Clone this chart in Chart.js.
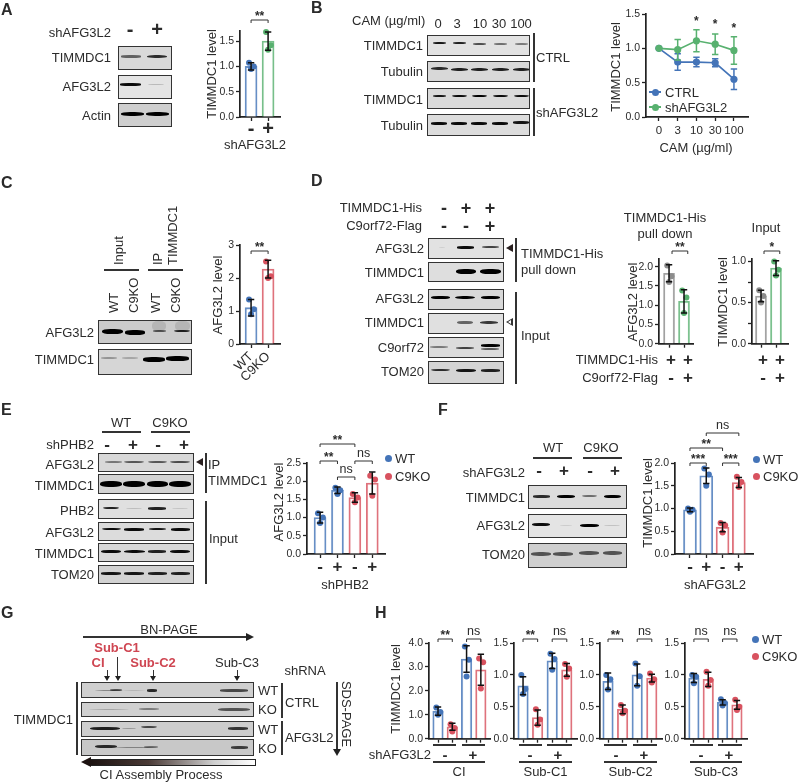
<!DOCTYPE html>
<html lang="en">
<head>
<meta charset="UTF-8" />
<title>TIMMDC1 figure</title>
<script src="https://cdn.jsdelivr.net/npm/chart.js"></script>
<style>
  html, body { margin: 0; padding: 0; background: #fff; }
  #page { position: relative; width: 800px; height: 783px; overflow: hidden; filter: blur(0.3px);
          font-family: "Liberation Sans", Arial, sans-serif; color: #2b2b2b; }
  #page canvas { position: absolute; }
  .t { position: absolute; white-space: nowrap; line-height: 1; }
  .box { position: absolute; box-sizing: border-box; border: 1.7px solid #333; overflow: hidden; }
  .band { position: absolute; background: #000; border-radius: 40%; filter: blur(0.45px); }
  .ln { position: absolute; background: #333; }
  .dot { position: absolute; width: 7px; height: 7px; border-radius: 50%; }
</style>
</head>
<body>
<div id="page"></div>
<script>
// colours
const BLUE = "#4474b8", GREEN = "#58b16f", RED = "#d8525f", GREY = "#8c8c8c", INK = "#222";

// A
const aLabels = ["-", "+"];
const aMeans = [1.0, 1.5];
const aErrs = [0.07, 0.18];
const aDots = [[0.95, 1.0, 1.07], [1.33, 1.42, 1.68]];
// B
const bLabels = ["0", "3", "10", "30", "100"];
const bCtrl = [1.0, 0.8, 0.8, 0.79, 0.55];
const bCtrlErrs = [0, 0.12, 0.07, 0.06, 0.15];
const bSh = [1.0, 0.98, 1.11, 1.06, 0.97];
const bShErrs = [0, 0.15, 0.16, 0.15, 0.2];
// C
const cLabels = ["WT", "C9KO"];
const cMeans = [1.1, 2.27];
const cErrs = [0.25, 0.27];
const cDots = [[0.9, 1.05, 1.35], [2.0, 2.05, 2.5]];
// D
const d1Means = [1.83, 1.1];
const d1Errs = [0.22, 0.3];
const d1Dots = [[1.6, 1.75, 2.03], [0.8, 1.2, 1.38]];
const d2Means = [0.58, 0.92];
const d2Errs = [0.07, 0.09];
const d2Dots = [[0.5, 0.58, 0.65], [0.83, 0.9, 1.0]];
// E
const signs4 = ["-", "+", "-", "+"];
const eMeans = [1.0, 1.75, 1.55, 1.95];
const eErrs = [0.15, 0.09, 0.13, 0.3];
const eDots = [[0.85, 1.0, 1.12], [1.65, 1.75, 1.82], [1.42, 1.55, 1.65], [1.6, 2.05, 2.15]];
// F
const fMeans = [0.97, 1.72, 0.59, 1.57];
const fErrs = [0.04, 0.17, 0.1, 0.11];
const fDots = [[0.93, 0.97, 1.0], [1.5, 1.75, 1.88], [0.47, 0.63, 0.68], [1.47, 1.58, 1.7]];
// H
const h1Means = [1.15, 0.5, 3.33, 2.88];
const h1Errs = [0.17, 0.15, 0.55, 0.65];
const h1Dots = [[1.0, 1.12, 1.3], [0.3, 0.45, 0.6], [2.6, 3.3, 3.85], [2.1, 3.2, 3.35]];
const h2Means = [0.83, 0.33, 1.22, 1.08];
const h2Errs = [0.14, 0.12, 0.12, 0.1];
const h2Dots = [[0.7, 0.78, 1.0], [0.22, 0.3, 0.46], [1.08, 1.25, 1.33], [0.97, 1.1, 1.17]];
const h3Means = [0.9, 0.46, 1.0, 0.95];
const h3Errs = [0.13, 0.07, 0.17, 0.06];
const h3Dots = [[0.77, 0.93, 1.0], [0.4, 0.44, 0.53], [0.83, 0.98, 1.18], [0.88, 0.93, 1.02]];
const h4Means = [0.95, 0.93, 0.57, 0.53];
const h4Errs = [0.07, 0.11, 0.04, 0.07];
const h4Dots = [[0.87, 0.97, 1.0], [0.83, 0.92, 1.05], [0.52, 0.56, 0.62], [0.45, 0.5, 0.61]];

const jitter = [0, 0.16, -0.12];
const page = document.getElementById("page");

// ---- html helpers ----
function t(str, x, y, o = {}) {
    const el = document.createElement("div");
    el.className = "t";
    el.textContent = str;
    el.style.left = x + "px";
    el.style.top = y + "px";
    el.style.fontSize = (o.s || 13) + "px";
    if (o.b) el.style.fontWeight = "bold";
    if (o.c) el.style.color = o.c;
    const ax = o.a === "r" ? "-100%" : o.a === "l" ? "0" : "-50%";
    if (o.up) {
        // starts at x,y and reads upwards
        el.style.transformOrigin = "0 0";
        el.style.transform = "rotate(-90deg) translateY(-50%)";
    } else if (o.rot) {
        el.style.transform = "translate(-50%,-50%) rotate(" + o.rot + "deg)";
    } else {
        el.style.transform = "translate(" + ax + ",-50%)";
    }
    page.appendChild(el);
}
function ln(x0, y0, x1, y1, w = 1.5, c) {
    const el = document.createElement("div");
    el.className = "ln";
    el.style.left = (x0 === x1 ? x0 - w / 2 : x0) + "px";
    el.style.top = (y0 === y1 ? y0 - w / 2 : y0) + "px";
    el.style.width = (x0 === x1 ? w : x1 - x0) + "px";
    el.style.height = (y0 === y1 ? w : y1 - y0) + "px";
    if (c) el.style.background = c;
    page.appendChild(el);
}
function tri(x, y, dir, size, open) {
    const el = document.createElement("div");
    el.style.position = "absolute";
    const s = size, fill = open ? "#fff" : "#2a2020";
    if (dir === "left") {
        el.style.cssText += `left:${x - s}px;top:${y - s * 0.75}px;border-top:${s * 0.75}px solid transparent;border-bottom:${s * 0.75}px solid transparent;border-right:${s * 1.2}px solid ${open ? "#333" : fill};`;
    } else if (dir === "down") {
        el.style.cssText += `left:${x - s * 0.6}px;top:${y - s}px;border-left:${s * 0.6}px solid transparent;border-right:${s * 0.6}px solid transparent;border-top:${s}px solid #222;`;
    } else if (dir === "right") {
        el.style.cssText += `left:${x - s}px;top:${y - s * 0.5}px;border-top:${s * 0.5}px solid transparent;border-bottom:${s * 0.5}px solid transparent;border-left:${s}px solid #222;`;
    }
    page.appendChild(el);
    if (open) {
        const inner = document.createElement("div");
        inner.style.cssText = `position:absolute;left:${x - s + 2.4}px;top:${y - s * 0.38}px;border-top:${s * 0.38}px solid transparent;border-bottom:${s * 0.38}px solid transparent;border-right:${s * 0.62}px solid #fff;`;
        page.appendChild(inner);
    }
}
// gel image: box with blurred bands, bands are [cx, cy, w, h, opacity] in page pixels
function blot(x0, y0, x1, y1, bg, bands) {
    const el = document.createElement("div");
    el.className = "box";
    el.style.left = x0 + "px";
    el.style.top = y0 + "px";
    el.style.width = x1 - x0 + "px";
    el.style.height = y1 - y0 + "px";
    el.style.background = bg;
    bands.forEach(([cx, cy, w, h, op]) => {
        const b = document.createElement("div");
        b.className = "band";
        b.style.left = cx - w / 2 - x0 - 1.7 + "px";
        b.style.top = cy - h / 2 - y0 - 1.7 + "px";
        b.style.width = w + "px";
        b.style.height = h + "px";
        b.style.opacity = op;
        el.appendChild(b);
    });
    page.appendChild(el);
}
function legendDots(x, y1, y2) {
    [[y1, "WT", BLUE], [y2, "C9KO", RED]].forEach(([y, label, col]) => {
        const d = document.createElement("div");
        d.className = "dot";
        d.style.left = x - 3.5 + "px";
        d.style.top = y - 3.5 + "px";
        d.style.background = col;
        page.appendChild(d);
        t(label, x + 7, y, { a: "l" });
    });
}

// ---- chart helpers ----
// draws error bars and significance brackets through the chart's scales
function marksPlugin(cfg, canvasTop) {
    return {
        id: "marks",
        afterDatasetsDraw(chart) {
            const ctx = chart.ctx, xs = chart.scales.x, ys = chart.scales.y;
            ctx.save();
            ctx.strokeStyle = "#111";
            ctx.lineWidth = 1.5;
            (cfg.errSeries || []).forEach(({ means, errs, col }) => {
                ctx.strokeStyle = col || "#111";
                means.forEach((m, i) => {
                    if (!errs[i]) return;
                    const x = xs.getPixelForValue(i);
                    const hi = ys.getPixelForValue(m + errs[i]);
                    const lo = ys.getPixelForValue(m - errs[i]);
                    ctx.beginPath();
                    ctx.moveTo(x, hi); ctx.lineTo(x, lo);
                    ctx.moveTo(x - 3.2, hi); ctx.lineTo(x + 3.2, hi);
                    ctx.moveTo(x - 3.2, lo); ctx.lineTo(x + 3.2, lo);
                    ctx.stroke();
                });
            });
            ctx.strokeStyle = "#333";
            ctx.lineWidth = 1;
            ctx.fillStyle = "#2b2b2b";
            ctx.textAlign = "center";
            ctx.textBaseline = "middle";
            (cfg.brackets || []).forEach(([a, b, pageY, label]) => {
                const xa = xs.getPixelForValue(a), xb = xs.getPixelForValue(b), y = pageY - canvasTop;
                if (a !== b) {
                    ctx.beginPath();
                    ctx.moveTo(xa, y + 3); ctx.lineTo(xa, y); ctx.lineTo(xb, y); ctx.lineTo(xb, y + 3);
                    ctx.stroke();
                }
                const stars = label.includes("*");
                ctx.font = (stars ? "bold 12px " : "12.5px ") + '"Liberation Sans"';
                ctx.fillText(label, (xa + xb) / 2, y - (stars ? 3.5 : 7));
            });
            ctx.restore();
        },
    };
}

function drawChart(cfg, datasets) {
    const yw = cfg.yw || 30, pt = cfg.pt || 30, pr = cfg.pr || 12, xh = cfg.xh || 24;
    const canvas = document.createElement("canvas");
    const left = cfg.axisX - yw, top = cfg.topY - pt;
    canvas.width = yw + (cfg.endX - cfg.axisX) + pr;
    canvas.height = pt + (cfg.zeroY - cfg.topY) + xh;
    canvas.style.left = left + "px";
    canvas.style.top = top + "px";
    page.appendChild(canvas);
    const labels = cfg.xLabels || [];
    const nX = cfg.nX;
    new Chart(canvas, {
        type: cfg.type || "bar",
        data: { datasets },
        options: {
            responsive: false,
            animation: false,
            layout: { padding: { top: pt, right: pr, left: 0, bottom: 0 } },
            plugins: { legend: { display: false }, tooltip: { enabled: false } },
            scales: {
                x: {
                    type: "linear",
                    offset: false,
                    min: cfg.xMin,
                    max: cfg.xMax,
                    border: { color: INK, width: 1.7 },
                    grid: { offset: false, drawOnChartArea: false, tickLength: 4, tickColor: INK, tickWidth: 1.3 },
                    afterBuildTicks: (s) => { s.ticks = Array.from({ length: nX }, (_, i) => ({ value: i })); },
                    afterFit: (s) => { s.height = xh; },
                    ticks: {
                        autoSkip: false,
                        minRotation: cfg.rotate || 0,
                        maxRotation: cfg.rotate || 0,
                        padding: cfg.tickPad === undefined ? -1 : cfg.tickPad,
                        color: "#2b2b2b",
                        font: { family: "Liberation Sans", size: cfg.tickSize || 17, weight: cfg.tickBold === false ? "normal" : "bold" },
                        callback: (v) => labels[v] || "",
                    },
                },
                y: {
                    type: "linear",
                    min: 0,
                    max: cfg.yMax,
                    border: { color: INK, width: 1.7 },
                    grid: { drawOnChartArea: false, tickLength: 4, tickColor: INK, tickWidth: 1.3 },
                    afterFit: (s) => { s.width = yw; },
                    ticks: {
                        stepSize: cfg.yStep,
                        includeBounds: false,
                        padding: 2,
                        color: "#2b2b2b",
                        font: { family: "Liberation Sans", size: 10.5 },
                        callback: (v) => {
                            if (cfg.labelEvery && Math.abs(v / cfg.labelEvery - Math.round(v / cfg.labelEvery)) > 1e-6) return "";
                            return cfg.intTicks ? String(v) : v.toFixed(1);
                        },
                    },
                },
            },
        },
        plugins: [marksPlugin(cfg, top)],
    });
}

function barChart(cfg) {
    const { means, errs, dots, colors, barW } = cfg;
    cfg.nX = means.length;
    cfg.errSeries = [{ means, errs }];
    const scatter = dots.map((vals, i) => ({
        type: "scatter",
        order: 1,
        clip: false,
        data: vals.map((v, k) => ({ x: i + jitter[k], y: v })),
        pointRadius: 3,
        pointBorderWidth: 0,
        pointBackgroundColor: colors[i],
    }));
    drawChart(cfg, [
        {
            type: "bar",
            order: 2,
            data: means.map((v, i) => ({ x: i, y: v })),
            barThickness: barW,
            backgroundColor: "rgba(255,255,255,0.9)",
            borderColor: colors.map((c) => c + "d0"),
            borderWidth: 1.8,
            borderSkipped: "bottom",
        },
        ...scatter,
    ]);
}

// ---- panel A ----
t("A", 1, 10, { a: "l", s: 16, b: 1 });
t("shAFG3L2", 111, 32, { a: "r" });
t("-", 130, 29, { s: 20, b: 1 });
t("+", 157, 29, { s: 20, b: 1 });
t("TIMMDC1", 111, 57, { a: "r" });
t("AFG3L2", 111, 86, { a: "r" });
t("Actin", 111, 115, { a: "r" });
blot(118, 46, 172, 70, "#d9d9d9", [[132, 57, 20, 2.6, 0.55], [158, 57, 20, 3.4, 0.8]]);
blot(118, 75, 172, 99, "#e4e4e4", [[131, 85, 21, 2.6, 0.95], [157, 85, 16, 1.6, 0.18]]);
blot(118, 103, 172, 127, "#cfcfcf", [[133, 115, 23, 4, 1], [158, 115, 23, 4, 1]]);
t("TIMMDC1 level", 211, 74, { rot: -90 });
barChart({
    axisX: 240, zeroY: 117, topY: 31, endX: 280, yMax: 1.7, yStep: 0.5, xMin: -0.65, xMax: 1.7,
    xLabels: aLabels, means: aMeans, errs: aErrs, dots: aDots, colors: [BLUE, GREEN], barW: 12,
    brackets: [[0, 1, 20, "**"]], tickSize: 20, tickPad: -4,
});
t("shAFG3L2", 255, 144);

// ---- panel B ----
t("B", 311, 8, { a: "l", s: 16, b: 1 });
t("CAM (µg/ml)", 352, 20, { a: "l" });
[[438, "0"], [457, "3"], [480, "10"], [499, "30"], [521, "100"]].forEach(([x, s]) => t(s, x, 23));
[["TIMMDC1", 45], ["Tubulin", 71], ["TIMMDC1", 99], ["Tubulin", 125]].forEach(([s, y]) => t(s, 423, y, { a: "r" }));
blot(427, 35, 530, 56, "#e2e2e2", [[440, 44, 13, 2, 0.9], [460, 44, 13, 2, 0.85], [480, 45, 13, 2, 0.65], [501, 45, 13, 1.8, 0.5], [522, 45, 13, 1.8, 0.45]]);
blot(427, 61, 530, 82, "#d8d8d8", [[440, 69, 17, 3.4, 0.8], [460, 70, 17, 3.4, 0.85], [480, 70, 17, 3.4, 0.85], [501, 70, 17, 3.4, 0.85], [522, 70, 17, 3.4, 0.85]]);
blot(427, 88, 530, 109, "#dadada", [[440, 97, 13, 2, 0.9], [460, 97, 15, 2.4, 0.95], [480, 97, 15, 2.4, 1], [501, 97, 15, 2.4, 0.95], [522, 97, 15, 2.4, 0.95]]);
blot(427, 114, 530, 136, "#dcdcdc", [[440, 124, 16, 2.6, 0.95], [460, 124, 16, 2.6, 0.95], [480, 124, 16, 2.6, 0.95], [501, 124, 16, 2.6, 0.95], [522, 123, 16, 2.6, 0.9]]);
ln(534, 33, 534, 82);
ln(534, 88, 534, 136);
t("CTRL", 536, 57, { a: "l" });
t("shAFG3L2", 536, 112, { a: "l" });
t("TIMMDC1 level", 615, 67, { rot: -90 });
{
    const cfg = {
        type: "line", axisX: 646, zeroY: 117, topY: 14, endX: 748, yMax: 1.5, yStep: 0.5, xMin: -0.69, xMax: 4.75,
        nX: bLabels.length, xLabels: bLabels, tickSize: 11.5, tickBold: false, tickPad: 3, xh: 24, pt: 14,
        errSeries: [{ means: bCtrl, errs: bCtrlErrs, col: BLUE }, { means: bSh, errs: bShErrs, col: GREEN }],
        brackets: [[2, 2, 25.5, "*"], [3, 3, 28.5, "*"], [4, 4, 32.5, "*"]],
    };
    const line = (vals, col, order) => ({
        type: "line", order, clip: false, tension: 0,
        data: vals.map((v, i) => ({ x: i, y: v })),
        borderColor: col, borderWidth: 1.7, pointRadius: 3.6, pointBorderWidth: 0, pointBackgroundColor: col,
    });
    drawChart(cfg, [line(bCtrl, BLUE, 2), line(bSh, GREEN, 1)]);
}
[[92, "CTRL", BLUE], [107, "shAFG3L2", GREEN]].forEach(([y, s, col]) => {
    ln(649, y, 661, y, 1.7, col);
    const d = document.createElement("div");
    d.className = "dot";
    d.style.cssText = `left:${651.5}px;top:${y - 3.5}px;background:${col}`;
    page.appendChild(d);
    t(s, 665, y, { a: "l" });
});
t("CAM (µg/ml)", 696, 147);

// ---- panel C ----
t("C", 1, 183, { a: "l", s: 16, b: 1 });
t("Input", 118, 265, { up: 1 });
t("IP", 157, 265, { up: 1 });
t("TIMMDC1", 172, 265, { up: 1 });
ln(104, 270, 139, 270);
ln(148, 270, 183, 270);
[[113, "WT"], [133, "C9KO"], [155, "WT"], [175, "C9KO"]].forEach(([x, s]) => t(s, x, 313, { up: 1 }));
t("AFG3L2", 94, 332, { a: "r" });
t("TIMMDC1", 94, 359, { a: "r" });
blot(98, 320, 192, 344, "#cbcbcb", [[113, 332, 21, 5, 1], [136, 333, 20, 4.5, 1], [160, 332, 13, 2, 0.6], [183, 332, 16, 2.4, 0.85], [160, 327, 14, 10, 0.1], [183, 327, 15, 10, 0.1]]);
blot(98, 349, 192, 375, "#d6d6d6", [[110, 359, 16, 1.8, 0.3], [131, 359, 16, 1.8, 0.22], [155, 360, 22, 4.6, 1], [178, 359, 23, 4.6, 1]]);
t("AFG3L2 level", 217, 295, { rot: -90 });
barChart({
    axisX: 240, zeroY: 344, topY: 245, endX: 280, yMax: 3, yStep: 1, intTicks: true, xMin: -0.65, xMax: 1.7,
    xLabels: cLabels, means: cMeans, errs: cErrs, dots: cDots, colors: [BLUE, RED], barW: 12,
    brackets: [[0, 1, 251, "**"]], rotate: 45, tickSize: 13, tickBold: false, tickPad: 1, xh: 40,
});

// ---- panel D ----
t("D", 311, 181, { a: "l", s: 16, b: 1 });
t("TIMMDC1-His", 422, 207, { a: "r" });
t("C9orf72-Flag", 422, 225, { a: "r" });
[[444, "-"], [466, "+"], [490, "+"]].forEach(([x, s]) => t(s, x, 208, { s: 18, b: 1 }));
[[444, "-"], [466, "-"], [490, "+"]].forEach(([x, s]) => t(s, x, 226, { s: 18, b: 1 }));
[["AFG3L2", 248], ["TIMMDC1", 272], ["AFG3L2", 298], ["TIMMDC1", 322], ["C9orf72", 347], ["TOM20", 371]].forEach(([s, y]) => t(s, 424, y, { a: "r" }));
blot(428, 238, 504, 259, "#e2e2e2", [[466, 248, 17, 2.6, 0.95], [491, 248, 17, 2.2, 0.7], [443, 248, 6, 1.4, 0.08]]);
blot(428, 262, 504, 282, "#dedede", [[467, 272, 20, 5, 1], [491, 272, 21, 5, 1]]);
blot(428, 289, 504, 310, "#d8d8d8", [[441, 298, 19, 3, 1], [466, 298, 20, 3.6, 1], [491, 298, 19, 3.2, 1]]);
blot(428, 313, 504, 334, "#e0e0e0", [[466, 323, 16, 3, 0.55], [490, 323, 18, 3.4, 0.75]]);
blot(428, 337, 504, 358, "#dcdcdc", [[440, 348, 18, 1.8, 0.45], [466, 349, 18, 2, 0.7], [491, 346, 19, 2.6, 1], [491, 350, 18, 1.8, 0.6]]);
blot(428, 361, 504, 384, "#d4d4d4", [[441, 371, 19, 2.4, 0.8], [467, 371, 20, 3, 0.9], [491, 371, 19, 2.8, 0.85]]);
tri(512, 248, "left", 6);
tri(512, 322, "left", 6, true);
ln(516, 238, 516, 282);
ln(516, 292, 516, 384);
t("TIMMDC1-His", 521, 253, { a: "l" });
t("pull down", 521, 269, { a: "l" });
t("Input", 521, 335, { a: "l" });
t("TIMMDC1-His", 665, 217);
t("pull down", 665, 233);
t("AFG3L2 level", 632, 302, { rot: -90 });
barChart({
    axisX: 659, zeroY: 344, topY: 259, endX: 693, yMax: 2.2, yStep: 0.5, xMin: -0.67, xMax: 1.6,
    means: d1Means, errs: d1Errs, dots: d1Dots, colors: [GREY, GREEN], barW: 11,
    brackets: [[0.2, 1.25, 251, "**"]], xh: 8,
});
t("TIMMDC1-His", 658, 359, { a: "r" });
t("C9orf72-Flag", 658, 377, { a: "r" });
[[671, "+"], [688, "+"]].forEach(([x, s]) => t(s, x, 359, { s: 17, b: 1 }));
[[671, "-"], [688, "+"]].forEach(([x, s]) => t(s, x, 377, { s: 17, b: 1 }));
t("Input", 766, 227);
t("TIMMDC1 level", 722, 302, { rot: -90 });
barChart({
    axisX: 752, zeroY: 344, topY: 259, endX: 788, yMax: 1.03, yStep: 0.25, labelEvery: 0.5, xMin: -0.6, xMax: 1.8,
    means: d2Means, errs: d2Errs, dots: d2Dots, colors: [GREY, GREEN], barW: 11,
    brackets: [[0.2, 1.25, 251, "*"]], xh: 8,
});
[[763, "+"], [780, "+"]].forEach(([x, s]) => t(s, x, 359, { s: 17, b: 1 }));
[[763, "-"], [780, "+"]].forEach(([x, s]) => t(s, x, 377, { s: 17, b: 1 }));

// ---- panel E ----
t("E", 1, 410, { a: "l", s: 16, b: 1 });
t("WT", 121, 422);
t("C9KO", 170, 422);
ln(102, 432, 141, 432);
ln(151, 432, 190, 432);
t("shPHB2", 94, 444, { a: "r" });
[[107, "-"], [133, "+"], [158, "-"], [184, "+"]].forEach(([x, s]) => t(s, x, 444, { s: 17, b: 1 }));
[["AFG3L2", 464], ["TIMMDC1", 485], ["PHB2", 510], ["AFG3L2", 532], ["TIMMDC1", 553], ["TOM20", 574]].forEach(([s, y]) => t(s, 94, y, { a: "r" }));
blot(98, 453, 194, 472, "#d8d8d8", [[114, 463, 17, 2, 0.45], [135, 463, 20, 2.4, 0.6], [158, 463, 19, 2.4, 0.6], [181, 463, 20, 2.4, 0.65]]);
blot(98, 474, 194, 494, "#d4d4d4", [[112, 485, 22, 6, 1], [135, 485, 22, 6, 1], [158, 485, 21, 6, 1], [181, 485, 22, 6, 1]]);
blot(98, 499, 194, 519, "#e0e0e0", [[112, 509, 16, 2.4, 0.85], [135, 509, 16, 1.4, 0.15], [158, 509, 18, 2.8, 0.85], [181, 509, 16, 1.4, 0.12]]);
blot(98, 522, 194, 541, "#dcdcdc", [[112, 530, 19, 2.4, 0.95], [135, 530, 20, 2.8, 0.95], [158, 530, 17, 2.2, 0.9], [181, 530, 19, 2.6, 0.95]]);
blot(98, 543, 194, 562, "#d8d8d8", [[112, 552, 20, 3, 0.95], [135, 552, 21, 3.4, 0.95], [158, 552, 18, 2.6, 0.85], [181, 552, 20, 3, 0.95]]);
blot(98, 565, 194, 584, "#d2d2d2", [[112, 574, 20, 2.8, 0.9], [135, 574, 20, 2.8, 0.9], [158, 574, 19, 2.6, 0.85], [181, 574, 19, 2.6, 0.85]]);
tri(202, 462, "left", 6);
ln(206, 453, 206, 493);
ln(206, 501, 206, 584);
t("IP", 208, 464, { a: "l" });
t("TIMMDC1", 208, 480, { a: "l" });
t("Input", 209, 538, { a: "l" });
t("AFG3L2 level", 278, 502, { rot: -90 });
barChart({
    axisX: 307, zeroY: 554, topY: 463, endX: 385, yMax: 2.5, yStep: 0.5, xMin: -0.75, xMax: 3.73,
    xLabels: signs4, means: eMeans, errs: eErrs, dots: eDots, colors: [BLUE, BLUE, RED, RED], barW: 12,
    brackets: [[0, 2, 444, "**"], [0, 1, 461, "**"], [2, 3, 461, "ns"], [1, 2, 477, "ns"]], pt: 32,
});
legendDots(388, 458, 476);
t("shPHB2", 345, 584);

// ---- panel F ----
t("F", 438, 410, { a: "l", s: 16, b: 1 });
t("WT", 553, 447);
t("C9KO", 601, 447);
ln(533, 458, 572, 458);
ln(583, 458, 622, 458);
t("shAFG3L2", 525, 472, { a: "r" });
[[539, "-"], [564, "+"], [590, "-"], [615, "+"]].forEach(([x, s]) => t(s, x, 470, { s: 17, b: 1 }));
[["TIMMDC1", 497], ["AFG3L2", 525], ["TOM20", 554]].forEach(([s, y]) => t(s, 525, y, { a: "r" }));
blot(528, 485, 627, 509, "#dcdcdc", [[542, 497, 17, 2.6, 0.8], [567, 497, 18, 3.2, 1], [590, 497, 15, 2.4, 0.5], [613, 497, 17, 3, 1]]);
blot(528, 514, 627, 538, "#e4e4e4", [[542, 525, 18, 3, 0.95], [567, 526, 12, 1.2, 0.1], [590, 526, 19, 3.2, 1], [613, 526, 16, 1.4, 0.15]]);
blot(528, 543, 627, 568, "#cfcfcf", [[542, 555, 20, 4, 0.6], [564, 555, 20, 4, 0.6], [590, 554, 20, 4, 0.6], [613, 554, 19, 4, 0.6]]);
t("TIMMDC1 level", 647, 503, { rot: -90 });
barChart({
    axisX: 675, zeroY: 554, topY: 463, endX: 753, yMax: 2, yStep: 0.5, xMin: -0.92, xMax: 3.87,
    xLabels: signs4, means: fMeans, errs: fErrs, dots: fDots, colors: [BLUE, BLUE, RED, RED], barW: 13,
    brackets: [[0, 1, 463, "***"], [2, 3, 463, "***"], [0, 2, 448, "**"], [1, 3, 433, "ns"]], pt: 46,
});
legendDots(756, 459, 476);
t("shAFG3L2", 715, 584);

// ---- panel G ----
t("G", 1, 613, { a: "l", s: 16, b: 1 });
t("BN-PAGE", 169, 629);
ln(83, 637, 250, 637, 1.2);
tri(254, 637, "right", 8);
t("Sub-C1", 117, 647, { b: 1, c: "#cf4652" });
t("CI", 98, 662, { b: 1, c: "#cf4652" });
t("Sub-C2", 153, 662, { b: 1, c: "#cf4652" });
t("Sub-C3", 237, 662);
t("shRNA", 305, 670);
[[107, 670], [117.5, 657], [153, 670], [237, 670]].forEach(([x, y0]) => {
    ln(x, y0, x, 678, 1);
    tri(x, 681, "down", 5);
});
blot(81, 682, 254, 698, "#cfcfcf", [[110, 691, 28, 1.6, 0.35], [117, 691, 12, 2, 0.6], [153, 691, 10, 2.6, 0.8], [135, 691, 22, 1.2, 0.12], [235, 691, 28, 2.6, 0.65]]);
blot(81, 702, 254, 717, "#d0d0d0", [[110, 710, 40, 1.2, 0.2], [150, 710, 20, 1.8, 0.4], [235, 710, 32, 3, 0.6]]);
blot(81, 721, 254, 737, "#cdcdcd", [[106, 729, 30, 3, 0.85], [130, 729, 14, 1.4, 0.25], [150, 728, 16, 2.4, 0.65], [239, 729, 20, 2.6, 0.75]]);
blot(81, 739, 254, 756, "#c8c8c8", [[107, 747, 22, 3, 0.8], [135, 748, 40, 1.6, 0.35], [152, 748, 14, 1.8, 0.45], [240, 748, 17, 2.6, 0.7]]);
ln(77, 682, 77, 755);
t("TIMMDC1", 73, 719, { a: "r" });
[["WT", 690], ["KO", 709], ["WT", 729], ["KO", 748]].forEach(([s, y]) => t(s, 258, y, { a: "l" }));
ln(282, 683, 282, 718);
ln(282, 721, 282, 755);
t("CTRL", 285, 702, { a: "l" });
t("AFG3L2", 285, 737, { a: "l" });
ln(337, 682, 337, 750, 1.2);
tri(337, 756, "down", 7);
t("SDS-PAGE", 346, 714, { rot: 90 });
{
    const arrow = document.createElement("div");
    arrow.style.cssText = "position:absolute;left:90px;top:759px;width:164px;height:4.5px;border:1px solid #222;background:linear-gradient(to right,#1c1210,#4a3a36 35%,#cfcfcf 75%,#fff);";
    page.appendChild(arrow);
    const head = document.createElement("div");
    head.style.cssText = "position:absolute;left:81px;top:756.5px;border-top:5px solid transparent;border-bottom:5px solid transparent;border-right:10px solid #1c1210;";
    page.appendChild(head);
}
t("CI Assembly Process", 161, 774);

// ---- panel H ----
t("H", 375, 613, { a: "l", s: 16, b: 1 });
t("TIMMDC1 level", 395, 689, { rot: -90 });
const hColors = [BLUE, RED, BLUE, RED];
[
    { axisX: 429, endX: 490, yMax: 4, yStep: 1, xMin: -0.63, xMax: 3.64, means: h1Means, errs: h1Errs, dots: h1Dots, br: ["**", "ns"], minus: 445, plus: 473, name: "CI", lx: [433, 456, 462, 485] },
    { axisX: 514, endX: 577, yMax: 1.5, yStep: 0.5, xMin: -0.62, xMax: 3.7, means: h2Means, errs: h2Errs, dots: h2Dots, br: ["**", "ns"], minus: 530, plus: 558, name: "Sub-C1", lx: [519, 542, 547, 572] },
    { axisX: 600, endX: 662, yMax: 1.5, yStep: 0.5, xMin: -0.55, xMax: 3.7, means: h3Means, errs: h3Errs, dots: h3Dots, br: ["**", "ns"], minus: 616, plus: 644, name: "Sub-C2", lx: [604, 627, 633, 657] },
    { axisX: 685, endX: 747, yMax: 1.5, yStep: 0.5, xMin: -0.62, xMax: 3.7, means: h4Means, errs: h4Errs, dots: h4Dots, br: ["ns", "ns"], minus: 701, plus: 729, name: "Sub-C3", lx: [690, 713, 718, 742] },
].forEach((p) => {
    barChart({
        axisX: p.axisX, zeroY: 739, topY: 643, endX: p.endX, yMax: p.yMax, yStep: p.yStep, xMin: p.xMin, xMax: p.xMax,
        means: p.means, errs: p.errs, dots: p.dots, colors: hColors, barW: 10.5,
        brackets: [[0, 1, 639, p.br[0]], [2, 3, 639, p.br[1]]], xh: 8, pt: 20,
    });
    ln(p.lx[0], 745, p.lx[1], 745, 1.1);
    ln(p.lx[2], 745, p.lx[3], 745, 1.1);
    ln(p.lx[0], 762, p.lx[3], 762, 1.1);
    t("-", p.minus, 754, { s: 15, b: 1 });
    t("+", p.plus, 754, { s: 15, b: 1 });
    t(p.name, (p.lx[0] + p.lx[3]) / 2, 771);
});
t("shAFG3L2", 431, 754, { a: "r" });
legendDots(755, 639, 656);
</script>
</body>
</html>
